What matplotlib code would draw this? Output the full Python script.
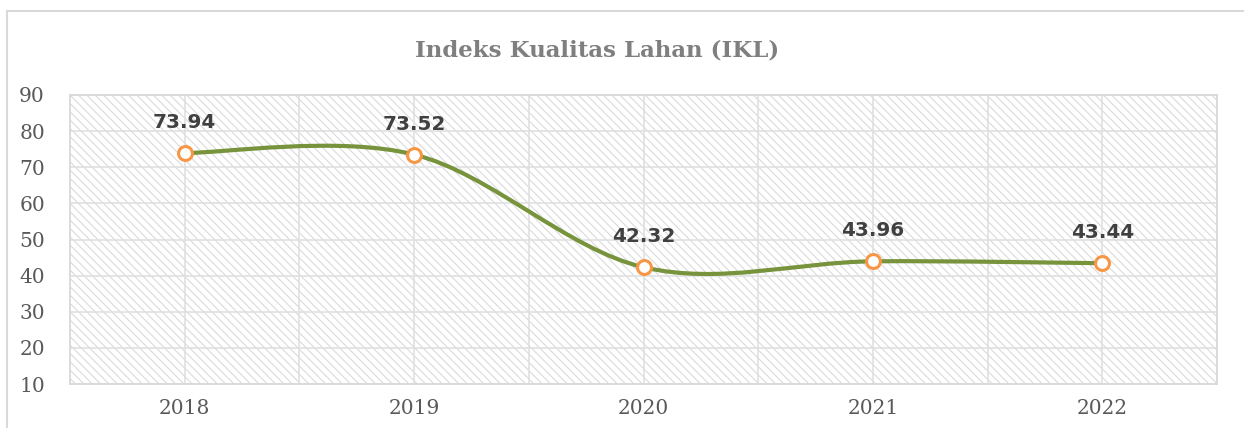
import matplotlib
matplotlib.use('Agg')
import matplotlib.pyplot as plt
from matplotlib.patches import Rectangle
from matplotlib.path import Path
from matplotlib.patches import PathPatch
import numpy as np

years = ['2018', '2019', '2020', '2021', '2022']
ikl = [73.94, 73.52, 42.32, 43.96, 43.44]
yticks = [10, 20, 30, 40, 50, 60, 70, 80, 90]

plt.rcParams['hatch.linewidth'] = 0.7
plt.rcParams['hatch.color'] = '#d6d6d6'

fig = plt.figure(figsize=(12.44, 4.28), dpi=100)
W, H = 1244, 428

# outer chart frame (partly cropped in the reference)
fig.patches.append(Rectangle((7 / W, -0.1), 1.2, 1 - 11 / H + 0.1,
                             transform=fig.transFigure, fill=False,
                             edgecolor='#d9d9d9', linewidth=1.5))

ax = fig.add_axes([70 / W, 1 - 384 / H, (1217 - 70) / W, (384 - 95) / H])

# hatched plot area
ax.add_patch(Rectangle((0, 0), 1, 1, transform=ax.transAxes, facecolor='white',
                       hatch='\\\\\\\\', edgecolor='#d6d6d6', linewidth=0, zorder=0))

x = np.arange(len(years))
ax.set_xlim(-0.5, len(years) - 0.5)
ax.set_ylim(10, 90)
ax.set_yticks(yticks)
ax.set_xticks(x)
ax.set_xticklabels(years)
ax.set_xticks(np.arange(-0.5, len(years), 1.0), minor=True)
ax.set_axisbelow(True)
ax.grid(True, which='major', color='#e0e0e0', linewidth=1.2)
ax.grid(True, which='minor', axis='x', color='#e0e0e0', linewidth=1.2)
ax.tick_params(which='both', length=0)
ax.tick_params(axis='y', pad=18, labelsize=14.5, labelcolor='#595959')
ax.tick_params(axis='x', pad=11, labelsize=14.5, labelcolor='#595959')
for lab in ax.get_xticklabels() + ax.get_yticklabels():
    lab.set_family('DejaVu Serif')
for s in ax.spines.values():
    s.set_color('#d9d9d9')
    s.set_linewidth(1.3)

# smoothed line (Excel-style, cubic Bezier through the points)
pts = np.column_stack([x, ikl]).astype(float)
verts = [tuple(pts[0])]
codes = [Path.MOVETO]
n = len(pts)
for i in range(n - 1):
    p0 = pts[i - 1] if i > 0 else pts[i]
    p1 = pts[i]
    p2 = pts[i + 1]
    p3 = pts[i + 2] if i + 2 < n else pts[i + 1]
    c1 = p1 + (p2 - p0) / 6
    c2 = p2 - (p3 - p1) / 6
    verts += [tuple(c1), tuple(c2), tuple(p2)]
    codes += [Path.CURVE4] * 3
ax.add_patch(PathPatch(Path(verts, codes), fill=False, edgecolor='#77933c',
                       linewidth=3, capstyle='round', zorder=3))

ax.plot(x, ikl, linestyle='none', marker='o', markersize=10,
        markerfacecolor='white', markeredgecolor='#f79646',
        markeredgewidth=2.2, zorder=4)

for xi, v in zip(x, ikl):
    ax.annotate(f'{v:.2f}', (xi, v), xytext=(0, 15), textcoords='offset points',
                ha='center', va='bottom', fontsize=14.4, fontweight='bold',
                color='#404040', family='DejaVu Sans')

fig.text(597 / W, 1 - 50 / H, 'Indeks Kualitas Lahan (IKL)', ha='center',
         va='center', fontsize=16.5, fontweight='bold', color='#7f7f7f',
         family='DejaVu Serif')

fig.savefig('out.png', dpi=100)
